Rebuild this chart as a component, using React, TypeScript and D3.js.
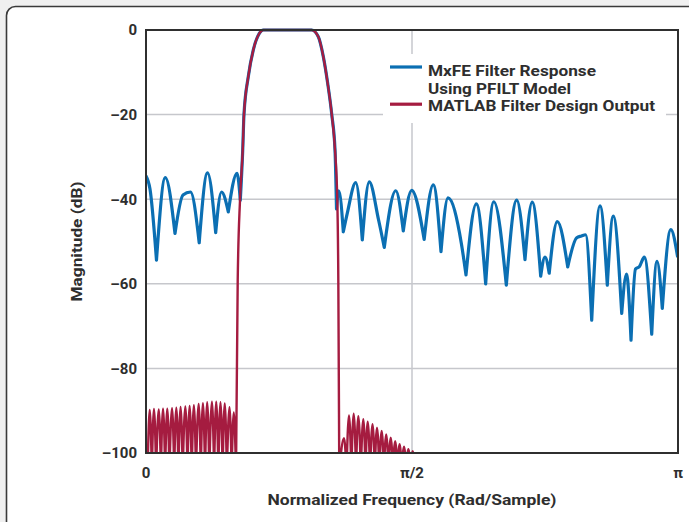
import { useEffect, useRef } from 'react';
import * as d3 from 'd3';

// frequency is in units of pi (0..1), magnitude in dB
const yTicks = [0, -20, -40, -60, -80, -100];
const xTicks = [0, 0.5, 1];
const xTickLabels = ['0', 'π/2', 'π'];

const NULL_DB = -104;

// passband shared by both responses
const passband = [
  [0.1818, -28.4], [0.1842, -19.9], [0.1923, -11.0], [0.2017, -4.7], [0.2130, -0.8],
  [0.2205, 0], [0.3115, 0], [0.3239, -1.6], [0.3333, -6.3], [0.3415, -12.6],
  [0.3491, -19.9], [0.3553, -28.4],
];

// MxFE (PFILT model) stopbands
const mxfeLower = [
  [0.0, -34.5], [0.0075, -37.6], [0.0197, -54.4], [0.0363, -34.9], [0.0545, -48.1],
  [0.0695, -39.0], [0.0836, -38.3], [0.1000, -50.3], [0.1156, -33.8], [0.1310, -47.9],
  [0.1419, -38.3], [0.1547, -43.0], [0.1711, -33.9], [0.1773, -40.2],
];
const mxfeUpper = [
  [0.3581, -42.3], [0.3624, -38.0], [0.3709, -47.7], [0.3784, -43.3], [0.3942, -36.1],
  [0.4066, -49.6], [0.4197, -35.9], [0.4370, -44.8], [0.4479, -51.4], [0.4694, -38.0],
  [0.4836, -47.5], [0.4994, -37.9], [0.5229, -49.5], [0.5400, -36.6], [0.5545, -52.4],
  [0.5677, -39.7], [0.5927, -50.4], [0.6015, -57.9], [0.6209, -41.1], [0.6385, -60.0],
  [0.6538, -40.6], [0.6773, -60.3], [0.6968, -40.2], [0.7124, -54.3], [0.7259, -40.7],
  [0.7419, -58.2], [0.7500, -53.7], [0.7579, -57.5], [0.7731, -45.3], [0.7927, -56.0],
  [0.8096, -49.1], [0.8186, -48.7], [0.8261, -48.4], [0.8378, -68.6], [0.8534, -41.6],
  [0.8671, -60.3], [0.8784, -44.0], [0.8942, -67.0], [0.9032, -57.7], [0.9117, -73.3],
  [0.9201, -56.5], [0.9276, -55.9], [0.9367, -53.7], [0.9506, -71.9], [0.9605, -54.7],
  [0.9705, -65.8], [0.9865, -47.2], [0.9991, -53.5],
];

// MATLAB design: equiripple stopbands (peaks + nulls) and the edges
const matlabLowNulls = [
  0.003, 0.011, 0.019, 0.028, 0.036, 0.044, 0.053, 0.061, 0.069, 0.078, 0.086,
  0.094, 0.103, 0.111, 0.119, 0.128, 0.136, 0.144, 0.152, 0.161, 0.1692,
];
const matlabLowPeaks = [
  [0.007, -89.8], [0.015, -89.6], [0.024, -89.7], [0.032, -89.5], [0.040, -89.5],
  [0.049, -89.4], [0.057, -89.3], [0.065, -89.1], [0.074, -89.0], [0.082, -88.9],
  [0.090, -88.7], [0.099, -88.4], [0.107, -88.2], [0.115, -88.0], [0.124, -87.9],
  [0.132, -87.9], [0.140, -88.0], [0.148, -88.3], [0.157, -89.2], [0.165, -90.4],
];
const matlabRiseEdge = [[0.1724, -59.1], [0.1767, -40.2]];
const matlabFallEdge = [[0.3596, -40.2], [0.3615, -59.1]];
const matlabHighNulls = [
  0.3633, 0.3769, 0.3860, 0.3948, 0.4038, 0.4126, 0.4212, 0.4300, 0.4386,
  0.4472, 0.4558, 0.4642, 0.4726, 0.4808, 0.4891, 0.4972, 0.5055,
];
const matlabHighPeaks = [
  [0.3722, -96.5], [0.3816, -91.1], [0.3904, -90.7], [0.3991, -91.3], [0.4085, -92.0],
  [0.4167, -92.6], [0.4258, -93.2], [0.4342, -94.0], [0.4430, -94.8], [0.4515, -95.6],
  [0.4600, -96.4], [0.4684, -97.2], [0.4767, -97.9], [0.4850, -98.5], [0.4932, -99.1],
  [0.5013, -99.6],
];

const legendItems = [
  { lines: ['MxFE Filter Response', 'Using PFILT Model'], widths: [168, 143], color: '#0b6fb3' },
  { lines: ['MATLAB Filter Design Output'], widths: [227], color: '#a51c40' },
];

const ripple = (nulls, peaks) =>
  nulls.flatMap((n, i) => (i < peaks.length ? [[n, NULL_DB], peaks[i]] : [[n, NULL_DB]]));

// split at local minima so the nulls stay sharp
const lobes = (pts) => {
  const segs = [];
  let cur = [pts[0]];
  for (let i = 1; i < pts.length; i++) {
    cur.push(pts[i]);
    const isMin = i < pts.length - 1 && pts[i][1] < pts[i - 1][1] && pts[i][1] < pts[i + 1][1];
    if (isMin) {
      segs.push(cur);
      cur = [pts[i]];
    }
  }
  if (cur.length > 1) segs.push(cur);
  return segs;
};

const FONT = 'Roboto, "Open Sans", sans-serif';
const INK = '#2e2e2e';

const App = () => {
  const chart = useRef(null);

  useEffect(() => {
    const width = 689;
    const height = 522;
    const left = 146, right = 678, top = 30, bottom = 453;

    const svg = d3.select(chart.current)
      .attr('width', width)
      .attr('height', height)
      .style('position', 'absolute')
      .style('left', 0)
      .style('top', 0);
    svg.selectAll('*').remove();

    svg.append('rect').attr('width', width).attr('height', height).attr('fill', '#f0f0f0');
    svg.append('rect')
      .attr('x', 6.5).attr('y', 6.5)
      .attr('width', 740).attr('height', 560)
      .attr('rx', 9)
      .attr('fill', '#ffffff')
      .attr('stroke', '#3a3a3a')
      .attr('stroke-width', 1.6);

    const x = d3.scaleLinear().domain([0, 1]).range([left, right]);
    const y = d3.scaleLinear().domain([-100, 0]).range([bottom, top]);

    // grid
    svg.selectAll('.hgrid')
      .data(yTicks.filter((d) => d !== 0 && d !== -100))
      .join('line')
      .attr('x1', left).attr('x2', right)
      .attr('y1', (d) => y(d)).attr('y2', (d) => y(d))
      .attr('stroke', '#c6c7cc')
      .attr('stroke-width', 1.5);
    svg.append('line')
      .attr('x1', x(0.5)).attr('x2', x(0.5))
      .attr('y1', top).attr('y2', bottom)
      .attr('stroke', '#c6c7cc')
      .attr('stroke-width', 1.5);

    // legend
    svg.append('rect')
      .attr('x', 383).attr('y', 54)
      .attr('width', 283).attr('height', 69)
      .attr('fill', '#ffffff');
    const lg = svg.append('g').attr('font-family', FONT).attr('font-weight', 700)
      .attr('font-size', '15px').attr('fill', INK);
    let row = 0;
    legendItems.forEach((item) => {
      const yy = 67 + row * 17.6;
      const ly = yy + (row > 0 ? 2 : 0);
      lg.append('line')
        .attr('x1', 390).attr('x2', 422)
        .attr('y1', ly).attr('y2', ly)
        .attr('stroke', item.color).attr('stroke-width', 3.2);
      item.lines.forEach((t, k) => {
        lg.append('text')
          .attr('x', 428)
          .attr('y', yy + 9 + k * 17.6 + (row > 0 ? -0.5 : 0))
          .attr('textLength', item.widths[k])
          .attr('lengthAdjust', 'spacingAndGlyphs')
          .text(t);
      });
      row += item.lines.length;
    });

    // curves
    svg.append('clipPath').attr('id', 'plot-clip')
      .append('rect')
      .attr('x', left).attr('y', top - 3)
      .attr('width', right - left).attr('height', bottom - top + 3);

    const line = d3.line()
      .x((d) => x(d[0]))
      .y((d) => y(d[1]))
      .curve(d3.curveMonotoneX);
    const pathOf = (pts) => lobes(pts).map((s) => line(s)).join('');

    const mxfe = [...mxfeLower, ...passband, ...mxfeUpper];
    const matlab = [
      ...ripple(matlabLowNulls, matlabLowPeaks),
      ...matlabRiseEdge,
      ...passband,
      ...matlabFallEdge,
      ...ripple(matlabHighNulls, matlabHighPeaks),
    ];

    const plot = svg.append('g').attr('clip-path', 'url(#plot-clip)');
    plot.append('path')
      .attr('d', pathOf(mxfe))
      .attr('fill', 'none')
      .attr('stroke', legendItems[0].color)
      .attr('stroke-width', 3.2)
      .attr('stroke-linejoin', 'round')
      .attr('stroke-linecap', 'round');
    plot.append('path')
      .attr('d', pathOf(matlab))
      .attr('fill', 'none')
      .attr('stroke', legendItems[1].color)
      .attr('stroke-width', 2.4)
      .attr('stroke-linejoin', 'round');

    // frame
    svg.append('rect')
      .attr('x', left).attr('y', top)
      .attr('width', right - left).attr('height', bottom - top)
      .attr('fill', 'none')
      .attr('stroke', '#2f2f2f')
      .attr('stroke-width', 2);

    // tick labels
    const labels = svg.append('g').attr('font-family', FONT).attr('font-weight', 700)
      .attr('font-size', '15px').attr('fill', INK);
    labels.selectAll('.ytick')
      .data(yTicks)
      .join('text')
      .attr('x', 137)
      .attr('y', (d) => y(d))
      .attr('dy', '0.36em')
      .attr('text-anchor', 'end')
      .text((d) => (d === 0 ? '0' : `–${Math.abs(d)}`));
    labels.selectAll('.xtick')
      .data(xTicks)
      .join('text')
      .attr('x', (d) => x(d))
      .attr('y', 478)
      .attr('text-anchor', 'middle')
      .text((d, i) => xTickLabels[i]);

    labels.append('text')
      .attr('x', x(0.5))
      .attr('y', 505)
      .attr('text-anchor', 'middle')
      .attr('font-size', '15.5px')
      .attr('textLength', 289)
      .attr('lengthAdjust', 'spacingAndGlyphs')
      .text('Normalized Frequency (Rad/Sample)');
    labels.append('text')
      .attr('transform', `translate(82,${(top + bottom) / 2}) rotate(-90)`)
      .attr('text-anchor', 'middle')
      .attr('font-size', '15.5px')
      .attr('textLength', 120)
      .attr('lengthAdjust', 'spacingAndGlyphs')
      .text('Magnitude (dB)');
  }, []);

  return (
    <div>
      <svg ref={chart}></svg>
    </div>
  );
};

export default App;
